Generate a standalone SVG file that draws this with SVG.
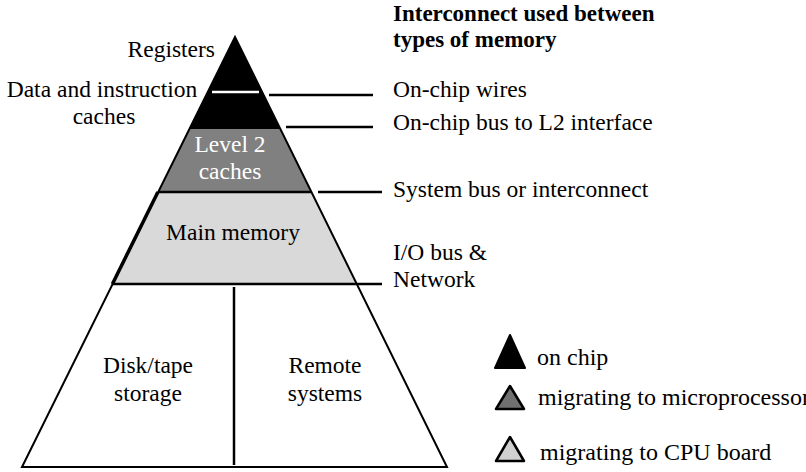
<svg xmlns="http://www.w3.org/2000/svg" width="806" height="472" viewBox="0 0 806 472">
<style>
text{font-family:"Liberation Serif","Times New Roman",serif;font-size:23.5px;fill:#000}
.b{font-weight:bold;font-size:23px}
.lg{font-size:24px}
.w{fill:#fff}
.m{text-anchor:middle}
.e{text-anchor:end}
.ln{stroke:#000;stroke-width:2.5;fill:none}
.edge{stroke:#000;stroke-width:2;fill:none;stroke-linejoin:miter}
</style>
<rect width="806" height="472" fill="#fff"/>
<g id="pyramid">
<g id="bottom-tier">
<polygon points="112.4,284 356.6,284 447,467 22,467" fill="#fff"/>
<line x1="234" y1="287" x2="234" y2="465" class="ln"/>
</g>
<g id="main-memory">
<polygon points="157.9,192 311.1,192 356.6,284 112.4,284" fill="#d9d9d9"/>
<line x1="157.9" y1="192" x2="112.4" y2="284" stroke="#000" stroke-width="3.5"/>
</g>
<g id="level2">
<polygon points="189,129 280,129 311.1,192 157.9,192" fill="#808080"/>
</g>
<g id="on-chip">
<polygon points="235,37 280,129 189,129" fill="#000"/>
<line x1="212" y1="92" x2="259" y2="92" stroke="#fff" stroke-width="2.5"/>
</g>
<line x1="157.9" y1="192" x2="311.1" y2="192" class="ln"/>
<line x1="112.4" y1="284" x2="356.6" y2="284" class="ln"/>
<polygon points="235,37 447,467 22,467" class="edge"/>
</g>
<g id="connectors">
<line x1="269" y1="95" x2="373" y2="95" class="ln"/>
<line x1="286" y1="127" x2="373" y2="127" class="ln"/>
<line x1="318" y1="192" x2="382" y2="192" class="ln"/>
<line x1="357" y1="284" x2="382" y2="284" class="ln"/>
</g>
<g id="labels">
<text x="215" y="57" class="e">Registers</text>
<text x="102" y="97" class="m">Data and instruction</text>
<text x="104" y="124" class="m">caches</text>
<text x="230" y="152" class="m w">Level 2</text>
<text x="230" y="179" class="m w">caches</text>
<text x="233" y="240" class="m">Main memory</text>
<text x="148" y="373" class="m">Disk/tape</text>
<text x="148" y="401" class="m">storage</text>
<text x="325" y="373" class="m">Remote</text>
<text x="325" y="401" class="m">systems</text>
</g>
<g id="interconnect-labels">
<text x="393" y="21" class="b">Interconnect used between</text>
<text x="393" y="47" class="b">types of memory</text>
<text x="393" y="97">On-chip wires</text>
<text x="393" y="130">On-chip bus to L2 interface</text>
<text x="393" y="197">System bus or interconnect</text>
<text x="393" y="260">I/O bus &amp;</text>
<text x="393" y="287">Network</text>
</g>
<g id="legend">
<g id="legend-onchip">
<polygon points="495,368 510,335 525,368" fill="#000" stroke="#000" stroke-width="2" stroke-linejoin="round"/>
<text x="537" y="365" class="lg">on chip</text>
</g>
<g id="legend-micro">
<polygon points="496,409 510,386 524,409" fill="#707070" stroke="#000" stroke-width="2.5" stroke-linejoin="round"/>
<text x="538" y="405" class="lg">migrating to microprocessor</text>
</g>
<g id="legend-board">
<polygon points="496,461 510,437 524,461" fill="#d0d0d0" stroke="#000" stroke-width="2.5" stroke-linejoin="round"/>
<text x="540" y="460" class="lg">migrating to CPU board</text>
</g>
</g>
</svg>
